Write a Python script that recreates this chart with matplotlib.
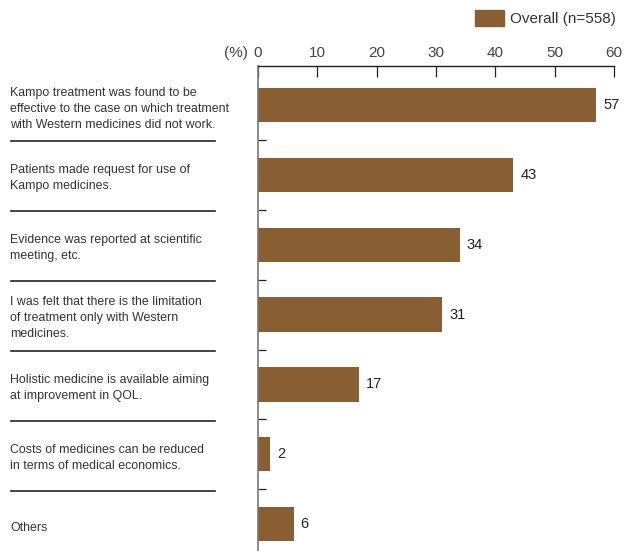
import matplotlib
matplotlib.use("Agg")
import matplotlib.pyplot as plt
from matplotlib.patches import Patch
from matplotlib.transforms import blended_transform_factory

# data
labels = [
    "Kampo treatment was found to be\neffective to the case on which treatment\nwith Western medicines did not work.",
    "Patients made request for use of\nKampo medicines.",
    "Evidence was reported at scientific\nmeeting, etc.",
    "I was felt that there is the limitation\nof treatment only with Western\nmedicines.",
    "Holistic medicine is available aiming\nat improvement in QOL.",
    "Costs of medicines can be reduced\nin terms of medical economics.",
    "Others",
]
values = [57, 43, 34, 31, 17, 2, 6]
xticks = [0, 10, 20, 30, 40, 50, 60]
legend_label = "Overall (n=558)"

BAR = "#8a5e33"
TXT = "#333333"
W, H = 624, 551
SANS = ['Liberation Sans', 'DejaVu Sans']

plt.rcParams['font.family'] = SANS

fig = plt.figure(figsize=(W / 100, H / 100), dpi=100)
ax = fig.add_axes([258 / W, -8 / H, 356 / W, 493 / H])

y = list(range(len(values)))
ax.barh(y, values, height=0.49, color=BAR)
for yi, v in zip(y, values):
    ax.text(v + 1.2, yi, str(v), va='center', ha='left', fontsize=10.5, color='#222222')

ax.set_xlim(0, 60)
ax.set_ylim(6.5, -0.56)
ax.xaxis.tick_top()
ax.set_xticks(xticks)
ax.set_xticklabels([str(t) for t in xticks], fontsize=11, color='#444444')
ax.tick_params(axis='x', direction='in', length=8, width=0.9, pad=4, color='#222222')
ax.set_yticks([i + 0.5 for i in range(len(values) - 1)])
ax.set_yticklabels([])
ax.tick_params(axis='y', direction='in', length=6, width=0.9, color='#222222')

for s in ['right', 'bottom']:
    ax.spines[s].set_visible(False)
ax.spines['top'].set_linewidth(1.0)
ax.spines['top'].set_color('#222222')
ax.spines['left'].set_linewidth(1.2)
ax.spines['left'].set_color('#777777')

fig.text(248 / W, 1 - 53 / H, "(%)", ha='right', va='center', fontsize=11, color='#444444')

# category labels and separators on the left
tr = blended_transform_factory(fig.transFigure, ax.transData)
for i, lab in enumerate(labels):
    ax.text(10 / W, i + 0.05, lab, transform=tr, ha='left', va='center', fontsize=8.9,
            color=TXT, linespacing=1.45, clip_on=False)
for i in range(len(labels) - 1):
    ax.plot([11 / W, 215 / W], [i + 0.52, i + 0.52], transform=tr, color='#222222',
            lw=1.2, clip_on=False)

ax.legend(handles=[Patch(color=BAR, label=legend_label)], loc='upper right',
          bbox_to_anchor=(624 / W, 1 - 2 / H), bbox_transform=fig.transFigure,
          frameon=False, handlelength=1.95, handleheight=1.3, borderpad=0,
          handletextpad=0.4, prop={'size': 11}, labelcolor=TXT)

fig.savefig("out.png", dpi=100)
